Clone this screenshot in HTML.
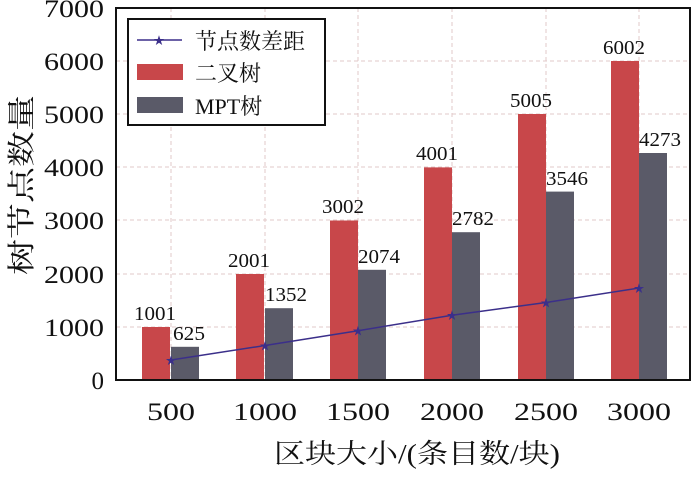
<!DOCTYPE html>
<html><head><meta charset="utf-8"><style>body{margin:0;background:#fff}</style></head><body>
<svg width="700" height="472" xmlns="http://www.w3.org/2000/svg" font-family="Liberation Serif, Noto Serif CJK SC, serif">
<rect width="700" height="472" fill="#fff"/>
<g stroke="#e2c8c8" stroke-dasharray="4,3" stroke-width="1">
<line x1="116" x2="690" y1="327" y2="327"/><line x1="116" x2="690" y1="274" y2="274"/><line x1="116" x2="690" y1="220" y2="220"/><line x1="116" x2="690" y1="167" y2="167"/><line x1="116" x2="690" y1="114" y2="114"/><line x1="116" x2="690" y1="61" y2="61"/>
<line x1="171" x2="171" y1="8" y2="380"/><line x1="265" x2="265" y1="8" y2="380"/><line x1="358" x2="358" y1="8" y2="380"/><line x1="452" x2="452" y1="8" y2="380"/><line x1="546" x2="546" y1="8" y2="380"/><line x1="639" x2="639" y1="8" y2="380"/>
</g>
<g fill="#c8474a">
<rect x="142" y="327" width="28" height="53"/><rect x="236" y="274" width="28" height="106"/><rect x="330" y="220.5" width="28" height="159.5"/><rect x="424" y="167.4" width="28" height="212.6"/><rect x="518" y="114" width="28" height="266"/><rect x="611" y="61" width="28" height="319"/>
</g>
<g fill="#5a5a68">
<rect x="171" y="346.8" width="28" height="33.2"/><rect x="265" y="308.2" width="28" height="71.8"/><rect x="358" y="269.8" width="28" height="110.2"/><rect x="452" y="232.2" width="28" height="147.8"/><rect x="546" y="191.6" width="28" height="188.4"/><rect x="639" y="153" width="28" height="227"/>
</g>
<polyline points="171,360 265,345.5 358,330.7 452,315.2 546,302.5 639,288" fill="none" stroke="#3b2f8a" stroke-width="1.5"/>
<g fill="#3b2f8a" font-size="11" text-anchor="middle">
<text x="171" y="364">★</text><text x="265" y="349.5">★</text><text x="358" y="334.7">★</text><text x="452" y="319.2">★</text><text x="546" y="306.5">★</text><text x="639" y="292">★</text>
</g>
<g font-size="20" fill="#111" text-anchor="middle">
<text x="155" y="320" textLength="42" lengthAdjust="spacingAndGlyphs">1001</text><text x="249" y="267" textLength="42" lengthAdjust="spacingAndGlyphs">2001</text><text x="343" y="213" textLength="42" lengthAdjust="spacingAndGlyphs">3002</text><text x="437" y="160" textLength="42" lengthAdjust="spacingAndGlyphs">4001</text><text x="531" y="107" textLength="42" lengthAdjust="spacingAndGlyphs">5005</text><text x="624" y="54" textLength="42" lengthAdjust="spacingAndGlyphs">6002</text>
<text x="189" y="340" textLength="32" lengthAdjust="spacingAndGlyphs">625</text><text x="286" y="301" textLength="42" lengthAdjust="spacingAndGlyphs">1352</text><text x="379" y="263" textLength="42" lengthAdjust="spacingAndGlyphs">2074</text><text x="473" y="225" textLength="42" lengthAdjust="spacingAndGlyphs">2782</text><text x="567" y="185" textLength="42" lengthAdjust="spacingAndGlyphs">3546</text><text x="660" y="146" textLength="42" lengthAdjust="spacingAndGlyphs">4273</text>
</g>
<rect x="116" y="8" width="574" height="372" fill="none" stroke="#111" stroke-width="2"/>
<g font-size="25" fill="#111" text-anchor="end">
<text x="104" y="389">0</text><text x="104" y="336" textLength="60" lengthAdjust="spacingAndGlyphs">1000</text><text x="104" y="283" textLength="60" lengthAdjust="spacingAndGlyphs">2000</text><text x="104" y="229" textLength="60" lengthAdjust="spacingAndGlyphs">3000</text><text x="104" y="176" textLength="60" lengthAdjust="spacingAndGlyphs">4000</text><text x="104" y="123" textLength="60" lengthAdjust="spacingAndGlyphs">5000</text><text x="104" y="70" textLength="60" lengthAdjust="spacingAndGlyphs">6000</text><text x="104" y="17" textLength="60" lengthAdjust="spacingAndGlyphs">7000</text>
</g>
<g font-size="25" fill="#111" text-anchor="middle">
<text x="171" y="420" textLength="48" lengthAdjust="spacingAndGlyphs">500</text><text x="265" y="420" textLength="64" lengthAdjust="spacingAndGlyphs">1000</text><text x="358" y="420" textLength="64" lengthAdjust="spacingAndGlyphs">1500</text><text x="452" y="420" textLength="64" lengthAdjust="spacingAndGlyphs">2000</text><text x="546" y="420" textLength="64" lengthAdjust="spacingAndGlyphs">2500</text><text x="639" y="420" textLength="64" lengthAdjust="spacingAndGlyphs">3000</text>
</g>
<text x="417" y="463" font-size="27" text-anchor="middle" fill="#111" textLength="286" lengthAdjust="spacingAndGlyphs">区块大小/(条目数/块)</text>
<text transform="translate(31,185) rotate(-90)" font-size="28" text-anchor="middle" fill="#111" textLength="180" lengthAdjust="spacingAndGlyphs">树节点数量</text>
<rect x="128" y="19" width="197" height="106" fill="#fff" stroke="#111" stroke-width="2"/>
<line x1="137" x2="182" y1="40" y2="40" stroke="#3b2f8a" stroke-width="1.5"/>
<text x="159" y="44" font-size="11" fill="#3b2f8a" text-anchor="middle">★</text>
<rect x="137" y="64" width="46" height="16" fill="#c8474a"/>
<rect x="137" y="97" width="46" height="16" fill="#5a5a68"/>
<g font-size="22" fill="#111"><text x="195" y="49" textLength="110" lengthAdjust="spacingAndGlyphs">节点数差距</text><text x="195" y="81">二叉树</text><text x="195" y="114">MPT树</text></g>
</svg>
</body></html>
